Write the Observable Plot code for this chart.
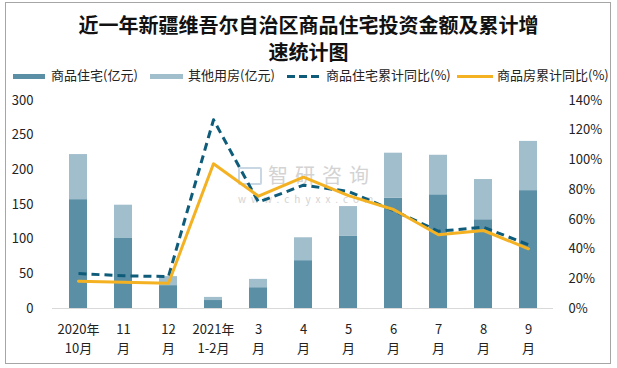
<!DOCTYPE html>
<html>
<head>
<meta charset="utf-8">
<script src="https://cdn.jsdelivr.net/npm/d3@7"></script>
<script src="https://cdn.jsdelivr.net/npm/@observablehq/plot@0.6"></script>
<style>
  html, body { margin: 0; padding: 0; background: #fff; }
  #wrap { position: relative; width: 617px; height: 368px; overflow: hidden; font-family: "Noto Sans CJK SC", "Noto Sans", sans-serif; }
  #border { position: absolute; left: 5px; top: 2px; width: 604px; height: 360px; border: 1px solid #a6a6a6; }
  .title { position: absolute; left: 0; width: 617px; text-align: center; font-size: 20px; font-weight: bold; color: #111; line-height: 1; }
  .leg { position: absolute; top: 67px; font-size: 13px; color: #222; white-space: nowrap; line-height: 16px; }
  .sw { position: absolute; top: 74px; height: 5px; }
  .wm { position: absolute; color: #d3d3d3; white-space: nowrap; line-height: 1; }
  #chart { position: absolute; left: 0; top: 0; }
</style>
</head>
<body>
<div id="wrap">
  <div class="wm" style="left:268px; top:165px; font-size:20px; letter-spacing:7px;">智研咨询</div>
  <div class="wm" style="left:238px; top:194px; font-size:10px; letter-spacing:5px;">www.chyxx.com</div>
  <div class="wm" style="left:238px; top:167px; width:20px; height:14px; border:2px solid #c9d6e3; border-radius:2px;"></div>
  <div id="chart"></div>
  <div id="border"></div>
  <div class="title" style="top:15px;">近一年新疆维吾尔自治区商品住宅投资金额及累计增</div>
  <div class="title" style="top:42px;">速统计图</div>
  <div class="sw" style="left:13px; width:32px; background:#5b8fa6;"></div>
  <div class="leg" style="left:51px;">商品住宅(亿元)</div>
  <div class="sw" style="left:150px; width:33px; background:#a0becb;"></div>
  <div class="leg" style="left:188px;">其他用房(亿元)</div>
  <div class="sw" style="left:287px; width:32px; height:3px; top:75px; background:repeating-linear-gradient(90deg,#0e5c7a 0 8px,transparent 8px 12px);"></div>
  <div class="leg" style="left:326px;">商品住宅累计同比(%)</div>
  <div class="sw" style="left:457px; width:36px; height:3px; top:75px; background:#f4b223;"></div>
  <div class="leg" style="left:497px;">商品房累计同比(%)</div>
</div>
<script>
const months = ["2020年10月","11月","12月","2021年1-2月","3月","4月","5月","6月","7月","8月","9月"];
const tickLabels = ["2020年\n10月","11\n月","12\n月","2021年\n1-2月","3\n月","4\n月","5\n月","6\n月","7\n月","8\n月","9\n月"];
const residential = [157, 101, 33, 11.5, 30, 69, 104, 159, 164, 128, 170];
const otherUse = [65, 48, 13, 4.5, 12, 33, 43, 65, 57, 58, 71];
const residentialYoY = [23.5, 22, 21.5, 127, 71.6, 83, 78.8, 66, 52, 54.7, 42.9];
const allHousingYoY = [18.4, 17.7, 17, 97.4, 75.6, 88.4, 76, 66.6, 49.6, 52.5, 40.2];
const leftTicks = [0, 50, 100, 150, 200, 250, 300];
const rightTicks = [0, 20, 40, 60, 80, 100, 120, 140];

const LEFT_MAX = 300, RIGHT_MAX = 140;
const toLeft = p => p * LEFT_MAX / RIGHT_MAX;

const bars = [];
months.forEach((m, i) => {
  bars.push({month: m, series: "商品住宅", value: residential[i]});
  bars.push({month: m, series: "其他用房", value: otherUse[i]});
});
const lineRes = months.map((m, i) => ({month: m, v: toLeft(residentialYoY[i])}));
const lineAll = months.map((m, i) => ({month: m, v: toLeft(allHousingYoY[i])}));
const labelOf = new Map(months.map((m, i) => [m, tickLabels[i]]));

const chart = Plot.plot({
  width: 617,
  height: 368,
  marginLeft: 52,
  marginRight: 64,
  marginTop: 100,
  marginBottom: 60,
  style: {background: "transparent", fontFamily: "'Noto Sans CJK SC', 'Noto Sans', sans-serif", fontSize: "13px", color: "#222"},
  x: {domain: months, paddingInner: 0.6, paddingOuter: 0.3, label: null},
  y: {domain: [0, LEFT_MAX], label: null},
  color: {domain: ["商品住宅", "其他用房"], range: ["#5b8fa6", "#a0becb"]},
  marks: [
    Plot.barY(bars, {x: "month", y: "value", fill: "series", order: ["商品住宅", "其他用房"]}),
    Plot.ruleY([0], {stroke: "#d9d9d9", strokeWidth: 1}),
    Plot.axisY(leftTicks, {anchor: "left", tickSize: 0, tickPadding: 19, fontSize: 13, label: null}),
    Plot.axisY(rightTicks.map(toLeft), {anchor: "right", tickSize: 0, tickPadding: 15, fontSize: 13, label: null,
      tickFormat: d => Math.round(d * RIGHT_MAX / LEFT_MAX) + "%"}),
    Plot.axisX({tickSize: 0, tickPadding: 12, fontSize: 13, lineHeight: 1.45, label: null, tickFormat: d => labelOf.get(d)}),
    Plot.line(lineRes, {x: "month", y: "v", stroke: "#0e5c7a", strokeWidth: 3, strokeDasharray: "8,5", strokeLinecap: "butt"}),
    Plot.line(lineAll, {x: "month", y: "v", stroke: "#f4b223", strokeWidth: 3})
  ]
});
document.getElementById("chart").appendChild(chart);
</script>
</body>
</html>
